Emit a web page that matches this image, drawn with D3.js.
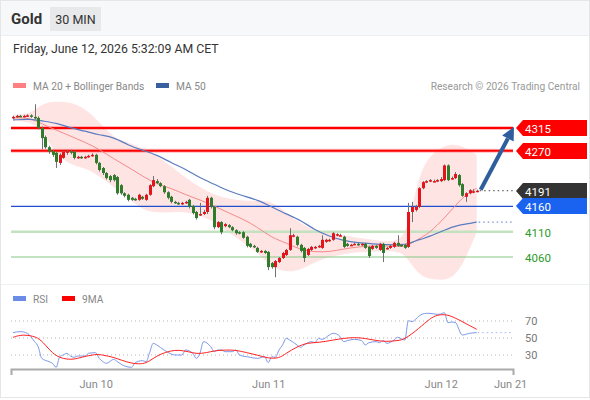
<!DOCTYPE html>
<html>
<head>
<meta charset="utf-8">
<script src="https://cdn.jsdelivr.net/npm/d3@7/dist/d3.min.js"></script>
<style>
  body { margin: 0; background: #fff; }
  svg { display: block; font-family: Roboto, "Liberation Sans", Arial, sans-serif; }
</style>
</head>
<body>
<div id="chart"></div>
<script>
// 30 min candles, Jun 9 12:30 -> Jun 12 05:00
var open = [4335,4337,4339,4338,4339,4340,4337,4335,4315,4297,
    4277,4269,4266,4246,4256,4266,4269,4268,4256,4258,
    4256,4258,4260,4262,4246,4236,4226,4220,4222,4218,
    4202,4186,4183,4177,4175,4173,4179,4173,4183,4200,
    4210,4206,4200,4188,4179,4169,4167,4165,4167,4173,
    4161,4149,4143,4145,4149,4177,4159,4119,4129,4121,
    4123,4119,4113,4109,4109,4100,4086,4082,4078,4070,
    4072,4070,4048,4040,4050,4058,4064,4074,4101,4100,
    4084,4078,4064,4074,4078,4080,4078,4090,4092,4094,
    4103,4103,4100,4086,4084,4086,4086,4084,4086,4080,
    4076,4082,4074,4086,4076,4078,4080,4088,4084,4084,
    4080,4149,4153,4159,4196,4208,4210,4210,4210,4210,
    4212,4241,4214,4216,4222,4204,4179,4186,4188,4190];
var close = [4337,4339,4338,4339,4340,4337,4335,4315,4295,4277,
    4268,4262,4248,4262,4268,4269,4266,4256,4258,4256,
    4258,4260,4262,4246,4232,4226,4216,4212,4212,4186,
    4186,4181,4173,4173,4173,4183,4175,4183,4202,4212,
    4206,4200,4188,4177,4169,4167,4165,4167,4169,4159,
    4147,4137,4145,4149,4177,4159,4119,4129,4109,4125,
    4119,4113,4107,4107,4098,4082,4080,4080,4070,4072,
    4068,4040,4040,4052,4058,4068,4074,4103,4103,4084,
    4072,4058,4076,4080,4080,4082,4094,4094,4094,4107,
    4105,4103,4080,4082,4084,4086,4084,4086,4078,4062,
    4082,4078,4086,4068,4078,4082,4088,4082,4082,4078,
    4149,4159,4159,4196,4208,4210,4212,4210,4212,4214,
    4241,4212,4216,4224,4202,4181,4186,4192,4190,4191];
var high = [4339,4341,4341,4341,4342,4342,4362,4338,4318,4300,
    4280,4272,4268,4265,4270,4272,4272,4270,4260,4260,
    4260,4262,4265,4264,4248,4238,4228,4222,4224,4220,
    4204,4188,4185,4179,4177,4185,4181,4185,4204,4220,
    4214,4208,4202,4190,4181,4171,4169,4169,4171,4175,
    4163,4151,4167,4153,4181,4179,4161,4131,4131,4127,
    4125,4121,4115,4111,4111,4102,4088,4084,4080,4074,
    4074,4072,4050,4054,4060,4070,4076,4117,4106,4102,
    4086,4080,4078,4082,4082,4084,4103,4096,4096,4109,
    4107,4106,4102,4088,4086,4088,4088,4088,4088,4082,
    4084,4084,4088,4088,4080,4084,4090,4103,4086,4086,
    4167,4169,4163,4198,4210,4212,4214,4213,4214,4218,
    4243,4243,4219,4228,4224,4206,4188,4194,4194,4193];
var low = [4333,4335,4336,4336,4337,4335,4332,4312,4273,4274,
    4264,4258,4236,4242,4254,4262,4263,4253,4254,4254,
    4254,4256,4258,4243,4229,4222,4213,4208,4209,4183,
    4183,4178,4170,4171,4171,4171,4173,4171,4181,4198,
    4204,4198,4185,4174,4166,4165,4163,4163,4165,4156,
    4144,4134,4141,4143,4145,4156,4115,4117,4105,4119,
    4117,4111,4104,4105,4096,4079,4078,4078,4068,4068,
    4066,4034,4037,4020,4048,4056,4062,4072,4099,4081,
    4069,4050,4062,4072,4076,4078,4076,4088,4090,4092,
    4101,4101,4078,4080,4082,4084,4082,4082,4076,4058,
    4074,4076,4072,4050,4075,4076,4078,4080,4080,4076,
    4078,4129,4150,4157,4194,4206,4208,4208,4208,4208,
    4210,4210,4213,4214,4199,4179,4169,4184,4186,4188];

// indicators, read at these candle indexes
var bandIdx = [0,5,8,12,16,20,24,28,32,36,40,44,48,52,56,60,64,68,72,76,80,84,88,92,96,100,104,108,110,112,114,116,118,120,122,124,126,129];
var ma20 = [4335,4335,4323,4311,4299,4287,4273,4254,4238,4220,4204,4196,4183,4173,4161,4147,4135,4119,4098,4088,4074,4070,4070,4076,4080,4082,4082,4080,4084,4092,4100,4109,4123,4137,4153,4169,4183,4196];
var upperBand = [4341,4343,4364,4368,4366,4354,4327,4295,4287,4275,4260,4240,4216,4198,4183,4175,4171,4171,4171,4147,4127,4111,4109,4103,4098,4094,4090,4094,4123,4192,4238,4258,4271,4279,4283,4281,4275,4262];
var lowerBand = [4329,4327,4311,4262,4242,4236,4220,4198,4177,4153,4147,4149,4149,4143,4129,4109,4088,4070,4038,4030,4034,4050,4060,4066,4070,4070,4072,4070,4054,4034,4021,4017,4015,4015,4019,4034,4058,4109];
var ma50 = [4331,4333,4329,4325,4315,4309,4301,4297,4281,4271,4262,4246,4234,4216,4204,4190,4181,4173,4159,4145,4133,4113,4101,4092,4088,4086,4084,4084,4086,4092,4096,4101,4107,4113,4119,4123,4125,4129];

var rsiIdx = [0,2,4,6,7,8,10,11,12,13,14,15,16,17,18,20,21,23,24,25,26,28,29,31,33,34,36,37,38,39,40,42,44,45,47,48,50,51,52,53,55,56,57,58,59,61,62,63,66,68,70,71,72,73,74,75,76,77,79,80,81,83,84,85,86,88,89,90,91,92,93,95,97,98,99,101,102,103,104,106,107,109,110,111,112,113,115,116,118,119,120,121,122,123,125,127,129];
var rsi = [56.3,57.5,55.5,45.7,39.8,26.1,22.2,20.2,15.5,28,30,32,28.8,27.3,28.8,28.8,32,32.7,26,22.2,20.2,24.9,22.2,17.1,15.5,21,23.3,22.2,32.7,43.7,41.8,35.9,31.2,30,30,35.9,32,26,32,45.7,39.8,33.9,35.9,35.9,33.9,33.9,35.9,30,27.3,26,28,21,28,27.3,35.9,41.8,49.6,47.6,41.8,39,41.8,45.7,44.5,49.6,48.4,53.5,55.5,54.7,51.6,45.7,46.9,48.4,46.9,41.8,44.5,45.7,44.5,46.9,43.7,47.6,50.8,47.6,70.4,69.2,72,75.9,79,79,77.8,78.2,79.8,68,68.8,68.4,53.5,55.5,56.3];
var ma9Idx = [0,2,4,7,9,11,13,15,17,19,23,25,28,30,33,35,37,39,41,44,46,49,51,54,56,59,62,65,68,71,74,76,79,82,85,89,92,95,98,101,104,107,109,113,116,118,120,122,125,129];
var ma9 = [50.8,53.5,53.5,50.8,41.8,32,26.9,24.9,24.9,27.3,31.2,30,27.3,24.1,20.2,19.4,20.2,26,31.2,35.1,35.9,33.9,31.2,32.7,35.1,35.9,35.9,32.7,30,26,26,32,39.8,44.5,44.5,47.6,49.6,50.8,49.6,46.9,45.7,46.9,48.4,61.4,73.1,77.1,77.8,75.9,69.2,60.2];

var resistances = [4315, 4270];
var pivot = 4160;
var supports = [4110, 4060];
var lastPrice = 4191;
var rsiLevels = [70, 50, 30];
var dayIdx = [23, 71, 119, 138.3];
var dayLabels = ["Jun 10", "Jun 11", "Jun 12", "Jun 21"];

(function () {
    var width = 590, height = 400;

    var svg = d3.select("#chart").append("svg")
        .attr("width", width)
        .attr("height", height);

    // frame + header
    svg.append("rect").attr("x", 0.5).attr("y", 0.5).attr("width", width - 1).attr("height", height - 3)
        .attr("fill", "#fff").attr("stroke", "#e4e6e8");
    svg.append("rect").attr("x", 1).attr("y", 1).attr("width", width - 2).attr("height", 34)
        .attr("fill", "#f7f8f9");
    svg.append("line").attr("x1", 1).attr("x2", width - 1).attr("y1", 35.5).attr("y2", 35.5)
        .attr("stroke", "#eceef0");
    svg.append("text").attr("x", 11).attr("y", 24).text("Gold")
        .attr("font-size", 15).attr("font-weight", "bold").attr("fill", "#333");
    svg.append("rect").attr("x", 50).attr("y", 7).attr("width", 51).attr("height", 24).attr("fill", "#e8e9ea");
    svg.append("text").attr("x", 75.5).attr("y", 24).attr("text-anchor", "middle").text("30 MIN")
        .attr("font-size", 12.5).attr("fill", "#333");
    svg.append("text").attr("x", 13).attr("y", 53).text("Friday, June 12, 2026 5:32:09 AM CET")
        .attr("font-size", 12.3).attr("fill", "#333");

    // legend
    var legend = [
        {x: 13, color: "#ff8080", label: "MA 20 + Bollinger Bands"},
        {x: 156, color: "#3a5fa0", label: "MA 50"}
    ];
    legend.forEach(function (d) {
        svg.append("rect").attr("x", d.x).attr("y", 83).attr("width", 13).attr("height", 5).attr("fill", d.color);
        svg.append("text").attr("x", d.x + 20).attr("y", 89.5).text(d.label).attr("font-size", 10.2).attr("fill", "#888");
    });
    svg.append("text").attr("x", 580).attr("y", 89.5).attr("text-anchor", "end")
        .text("Research \u00a9 2026 Trading Central").attr("font-size", 10.2).attr("fill", "#999");

    var x = d3.scaleLinear().domain([-0.56, 139.1]).range([11, 513]);
    var y = d3.scaleLinear().domain([4060, 4315]).range([257, 128]);
    var x0 = 11, x1 = 513;

    // bollinger band area
    var bands = bandIdx.map(function (i, k) {
        return {i: i, ma20: ma20[k], up: upperBand[k], lo: lowerBand[k], ma50: ma50[k]};
    });
    svg.append("path").datum(bands)
        .attr("d", d3.area().curve(d3.curveBasis)
            .x(function (d) { return x(d.i); })
            .y0(function (d) { return y(d.lo); })
            .y1(function (d) { return y(d.up); }))
        .attr("fill", "#ffe1e1").attr("opacity", 0.9);

    // level lines
    resistances.forEach(function (p) {
        svg.append("line").attr("x1", x0).attr("x2", x1).attr("y1", y(p)).attr("y2", y(p))
            .attr("stroke", "#ff9090").attr("stroke-width", 4).attr("opacity", 0.6);
        svg.append("line").attr("x1", x0).attr("x2", x1).attr("y1", y(p)).attr("y2", y(p))
            .attr("stroke", "#f00").attr("stroke-width", 2);
    });
    svg.append("line").attr("x1", x0).attr("x2", x1).attr("y1", y(supports[0])).attr("y2", y(supports[0]))
        .attr("stroke", "#c3e2bf").attr("stroke-width", 2.5);
    svg.append("line").attr("x1", x0).attr("x2", x1).attr("y1", y(supports[1])).attr("y2", y(supports[1]))
        .attr("stroke", "#84c884").attr("stroke-width", 1.2);
    svg.append("line").attr("x1", x0).attr("x2", x1).attr("y1", y(pivot)).attr("y2", y(pivot))
        .attr("stroke", "#1f4fd0").attr("stroke-width", 1.2);

    // moving averages
    svg.append("path").datum(bands)
        .attr("d", d3.line().curve(d3.curveBasis)
            .x(function (d) { return x(d.i); })
            .y(function (d) { return y(d.ma20); }))
        .attr("fill", "none").attr("stroke", "#f58a8a").attr("stroke-width", 1);
    svg.append("path").datum(bands)
        .attr("d", d3.line().curve(d3.curveBasis)
            .x(function (d) { return x(d.i); })
            .y(function (d) { return y(d.ma50); }))
        .attr("fill", "none").attr("stroke", "#5a7cc0").attr("stroke-width", 1.2);
    var lastIdx = close.length - 1;
    svg.append("line").attr("x1", x(lastIdx) + 2).attr("x2", x1)
        .attr("y1", y(ma50[ma50.length - 1])).attr("y2", y(ma50[ma50.length - 1]))
        .attr("stroke", "#5a7cc0").attr("stroke-dasharray", "1.5,3");

    // candles
    var candles = close.map(function (c, i) {
        return {i: i, o: open[i], h: high[i], l: low[i], c: c};
    });
    var g = svg.append("g");
    g.selectAll(".wick").data(candles).enter().append("line")
        .attr("x1", function (d) { return Math.round(x(d.i)) + 0.5; })
        .attr("x2", function (d) { return Math.round(x(d.i)) + 0.5; })
        .attr("y1", function (d) { return y(d.h); })
        .attr("y2", function (d) { return y(d.l); })
        .attr("stroke", "#707070").attr("stroke-width", 1);
    g.selectAll(".body").data(candles).enter().append("rect")
        .attr("x", function (d) { return Math.round(x(d.i)) - 1; })
        .attr("width", 3)
        .attr("y", function (d) { return y(Math.max(d.o, d.c)); })
        .attr("height", function (d) { return Math.max(1.5, Math.abs(y(d.o) - y(d.c))); })
        .attr("fill", function (d) { return d.c >= d.o ? "#e4141b" : "#2f7d2a"; });

    // last price dotted line
    svg.append("line").attr("x1", x(lastIdx) + 3).attr("x2", x1).attr("y1", y(lastPrice)).attr("y2", y(lastPrice))
        .attr("stroke", "#444").attr("stroke-dasharray", "1.5,3");

    // forecast arrow
    var ax = x(lastIdx) + 4, ay = y(lastPrice) - 1, tx = x1 + 1, ty = y(resistances[0]) - 1;
    var len = Math.hypot(tx - ax, ty - ay), ux = (tx - ax) / len, uy = (ty - ay) / len;
    var bx = tx - ux * 13, by = ty - uy * 13;
    svg.append("line").attr("x1", ax).attr("y1", ay).attr("x2", bx).attr("y2", by)
        .attr("stroke", "#2f5e9e").attr("stroke-width", 4);
    svg.append("path")
        .attr("d", "M" + tx + "," + ty + "L" + (bx - uy * 6.5) + "," + (by + ux * 6.5) +
            "L" + (bx + uy * 6.5) + "," + (by - ux * 6.5) + "Z")
        .attr("fill", "#2f5e9e");

    // price tags
    function tag(p, fill) {
        var yy = Math.round(y(p));
        svg.append("path")
            .attr("d", "M516," + yy + "L523," + (yy - 8) + "H587V" + (yy + 8) + "H523Z")
            .attr("fill", fill);
        svg.append("text").attr("x", 525).attr("y", yy + 4.5).text(p)
            .attr("font-size", 11.5).attr("fill", "#fff");
    }
    resistances.forEach(function (p) { tag(p, "#f00"); });
    tag(lastPrice, "#333");
    tag(pivot, "#1a62f0");
    supports.forEach(function (p) {
        svg.append("text").attr("x", 525).attr("y", Math.round(y(p)) + 4.5).text(p)
            .attr("font-size", 11.5).attr("fill", "#2b9a2b");
    });

    // RSI panel
    svg.append("line").attr("x1", 1).attr("x2", width - 1).attr("y1", 284.5).attr("y2", 284.5)
        .attr("stroke", "#eef0f2");
    var legend2 = [
        {x: 13, color: "#6a8be6", label: "RSI"},
        {x: 62, color: "#f00", label: "9MA"}
    ];
    legend2.forEach(function (d) {
        svg.append("rect").attr("x", d.x).attr("y", 296).attr("width", 13).attr("height", 5).attr("fill", d.color);
        svg.append("text").attr("x", d.x + 20).attr("y", 302.5).text(d.label).attr("font-size", 10.2).attr("fill", "#888");
    });

    var yr = d3.scaleLinear().domain([30, 70]).range([355, 321]);
    rsiLevels.forEach(function (v) {
        svg.append("line").attr("x1", x0).attr("x2", x1).attr("y1", yr(v)).attr("y2", yr(v))
            .attr("stroke", "#b5b5b5").attr("stroke-dasharray", "1,3");
        svg.append("text").attr("x", 525).attr("y", yr(v) + 4).text(v)
            .attr("font-size", 11).attr("fill", "#777");
    });

    var rsiLine = d3.line().curve(d3.curveMonotoneX)
        .x(function (d) { return x(d[0]); })
        .y(function (d) { return yr(d[1]); });
    svg.append("path").datum(rsiIdx.map(function (i, k) { return [i, rsi[k]]; }))
        .attr("d", rsiLine).attr("fill", "none").attr("stroke", "#7d98ea").attr("stroke-width", 1);
    svg.append("path").datum(ma9Idx.map(function (i, k) { return [i, ma9[k]]; }))
        .attr("d", rsiLine.curve(d3.curveBasis)).attr("fill", "none").attr("stroke", "#f22").attr("stroke-width", 1);
    svg.append("line").attr("x1", x(lastIdx) + 1).attr("x2", x1)
        .attr("y1", yr(rsi[rsi.length - 1])).attr("y2", yr(rsi[rsi.length - 1]))
        .attr("stroke", "#9fb4f0").attr("stroke-dasharray", "1.5,3");

    // time axis
    var axis = svg.append("g").attr("transform", "translate(0,369)")
        .call(d3.axisBottom(x).tickValues(dayIdx)
            .tickFormat(function (d, i) { return dayLabels[i]; })
            .tickSizeInner(0).tickSizeOuter(6).tickPadding(11));
    axis.select(".domain").attr("stroke", "#aaa").attr("stroke-width", 2);
    axis.selectAll("text").attr("font-size", 11).attr("fill", "#888")
        .attr("font-family", "Roboto, 'Liberation Sans', Arial, sans-serif");
})();
</script>
</body>
</html>
